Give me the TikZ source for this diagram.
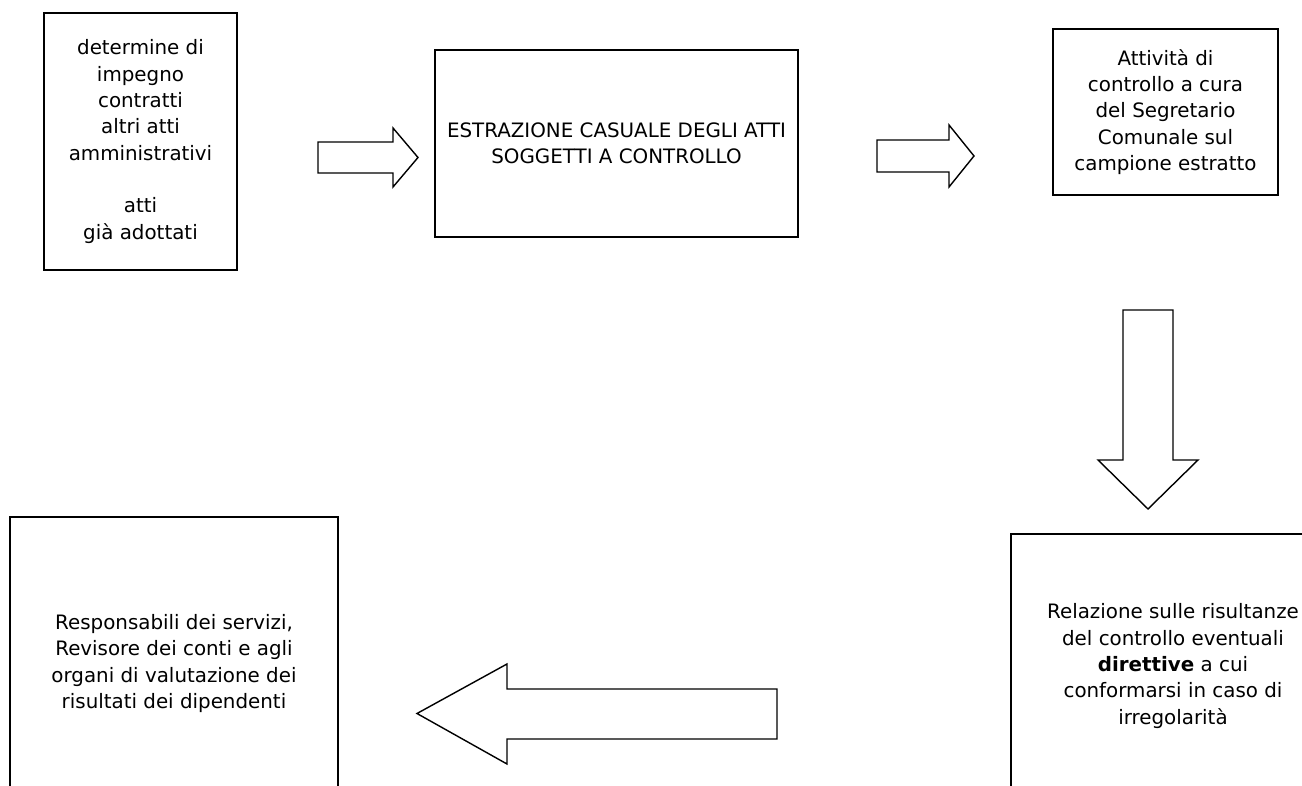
\documentclass[tikz,border=0pt]{standalone}
\usepackage{fontspec}
\setmainfont{DejaVu Sans}
\usetikzlibrary{positioning}

\tikzset{
  box/.style={draw, line width=0.75pt, align=center, inner sep=0pt,
    font=\fontsize{11.3}{15}\selectfont},
  blockarrow/.style={draw, line width=0.8pt, line join=miter}
}

\begin{document}
\begin{tikzpicture}[x=0.02cm, y=-0.02cm]

  \clip (0,0) rectangle (1302,786);
  \fill[white] (0,0) rectangle (1302,786);

  \node (atti) [box, minimum width=3.86cm, minimum height=5.14cm] at (140.5,141.5)
    {determine di\\impegno\\contratti\\altri atti\\amministrativi\\[15pt]atti\\già adottati};
  \node (estr) [box, minimum width=7.26cm, minimum height=3.74cm] at (616.5,143.5)
    {ESTRAZIONE CASUALE DEGLI ATTI\\SOGGETTI A CONTROLLO};
  \node (contr) [box, minimum width=4.5cm, minimum height=3.32cm] at (1165.5,112)
    {Attività di\\controllo a cura\\del Segretario\\Comunale sul\\campione estratto};
  \node (rel) [box, minimum width=6.48cm, minimum height=5.28cm] at (1173,666)
    {Relazione sulle risultanze\\del controllo eventuali\\\textbf{direttive} a cui\\conformarsi in caso di\\irregolarità};
  \node (resp) [box, minimum width=6.56cm, minimum height=5.86cm] at (174,663.5)
    {Responsabili dei servizi,\\Revisore dei conti e agli\\organi di valutazione dei\\risultati dei dipendenti};

  % block arrows
  \draw[blockarrow] (318,142) -- (393,142) -- (393,128) -- (418,157.5)
    -- (393,187) -- (393,173) -- (318,173) -- cycle;
  \draw[blockarrow] (877,140) -- (949,140) -- (949,125) -- (974,156)
    -- (949,187) -- (949,172) -- (877,172) -- cycle;
  \draw[blockarrow] (1123,310) -- (1173,310) -- (1173,460) -- (1198,460)
    -- (1148,509) -- (1098,460) -- (1123,460) -- cycle;
  \draw[blockarrow] (777,689) -- (507,689) -- (507,664) -- (417,713.5)
    -- (507,764) -- (507,739) -- (777,739) -- cycle;

\end{tikzpicture}
\end{document}
